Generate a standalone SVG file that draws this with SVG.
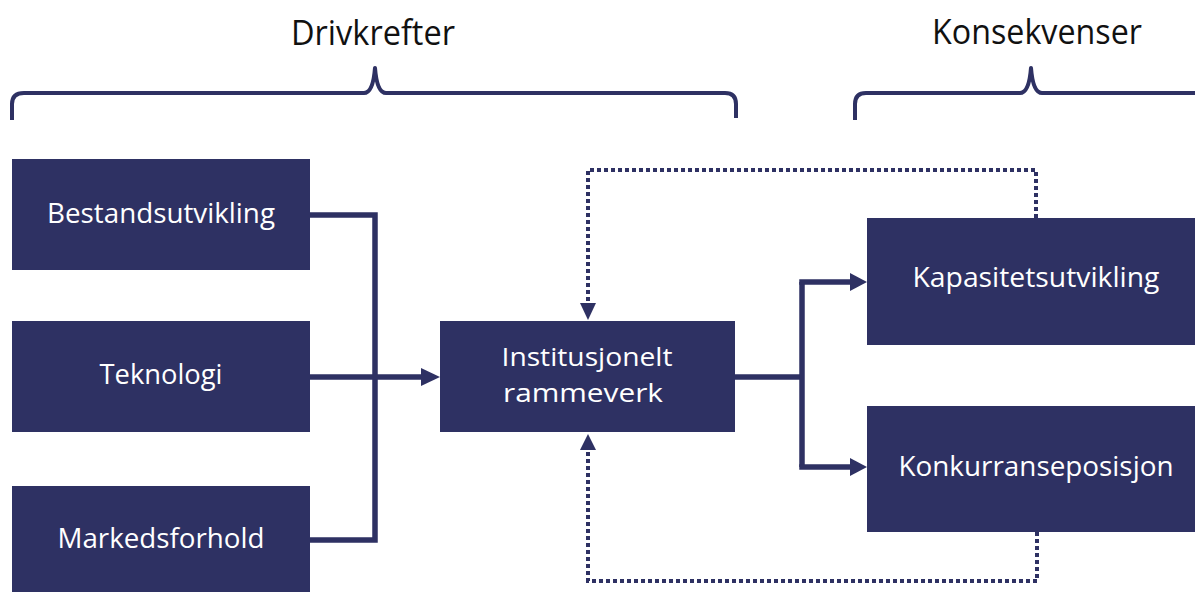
<svg xmlns="http://www.w3.org/2000/svg" width="1195" height="592" viewBox="0 0 1195 592">
<style>
.box{fill:#2e3163}
.lbl{fill:#ffffff;font-family:"Open Sans","Liberation Sans",sans-serif;font-size:28px;text-anchor:middle}
.lbl2{fill:#ffffff;font-family:"Open Sans","Liberation Sans",sans-serif;font-size:26px;text-anchor:middle}
.ttl{fill:#111111;font-family:"Open Sans","Liberation Sans",sans-serif;font-size:35px;text-anchor:middle}
.brace{fill:none;stroke:#2e3163;stroke-width:4;stroke-linejoin:round}
.solid{fill:none;stroke:#2e3163;stroke-width:5.5}
.dot{fill:none;stroke:#2e3163;stroke-width:4;stroke-dasharray:4 3}
.head{fill:#2e3163}
</style>
<rect width="1195" height="592" fill="#ffffff"/>
<g id="title-drivkrefter">
<text class="ttl" x="373" y="45" textLength="164" lengthAdjust="spacingAndGlyphs">Drivkrefter</text>
<path class="brace" d="M12,120 L12,104 Q12,93 24,93 L364,93 Q373,93 375,68 Q377,93 386,93 L725,93 Q736,93 736,104 L736,118"/>
</g>
<g id="title-konsekvenser">
<text class="ttl" x="1037" y="44" textLength="210" lengthAdjust="spacingAndGlyphs">Konsekvenser</text>
<path class="brace" d="M855,120 L855,104 Q855,93 866,93 L1020,93 Q1029,93 1031,68 Q1033,93 1042,93 L1197,93"/>
</g>
<g id="connectors">
<path class="solid" d="M310,215 H375 V540 H310"/>
<path class="solid" d="M310,377 H424"/>
<polygon class="head" points="421,368 440,377 421,386"/>
<path class="solid" d="M735,377 H802"/>
<path class="solid" d="M802,282 V467"/>
<path class="solid" d="M799.25,282 H852"/>
<polygon class="head" points="850,273 867,282 850,291"/>
<path class="solid" d="M799.25,467 H852"/>
<polygon class="head" points="850,458 867,467 850,476"/>
<path class="dot" d="M1036,218 V170 H588 V305"/>
<polygon class="head" points="580,303 596,303 588,320"/>
<path class="dot" d="M1037,532 V581 H588 V450"/>
<polygon class="head" points="580,450 596,450 588,434"/>
</g>
<g id="node-bestandsutvikling">
<rect class="box" x="12" y="159" width="298" height="111"/>
<text class="lbl" x="161" y="223" textLength="228" lengthAdjust="spacingAndGlyphs">Bestandsutvikling</text>
</g>
<g id="node-teknologi">
<rect class="box" x="12" y="321" width="298" height="111"/>
<text class="lbl" x="161" y="384" textLength="123" lengthAdjust="spacingAndGlyphs">Teknologi</text>
</g>
<g id="node-markedsforhold">
<rect class="box" x="12" y="486" width="298" height="106"/>
<text class="lbl" x="161" y="548" textLength="207" lengthAdjust="spacingAndGlyphs">Markedsforhold</text>
</g>
<g id="node-institusjonelt">
<rect class="box" x="440" y="321" width="295" height="111"/>
<text class="lbl2" x="587" y="366" textLength="171" lengthAdjust="spacingAndGlyphs">Institusjonelt</text>
<text class="lbl2" x="583" y="402" textLength="160" lengthAdjust="spacingAndGlyphs">rammeverk</text>
</g>
<g id="node-kapasitetsutvikling">
<rect class="box" x="867" y="218" width="328" height="127"/>
<text class="lbl" x="1036" y="287" textLength="247" lengthAdjust="spacingAndGlyphs">Kapasitetsutvikling</text>
</g>
<g id="node-konkurranseposisjon">
<rect class="box" x="867" y="406" width="328" height="126"/>
<text class="lbl" x="1036" y="476" textLength="275" lengthAdjust="spacingAndGlyphs">Konkurranseposisjon</text>
</g>
</svg>
